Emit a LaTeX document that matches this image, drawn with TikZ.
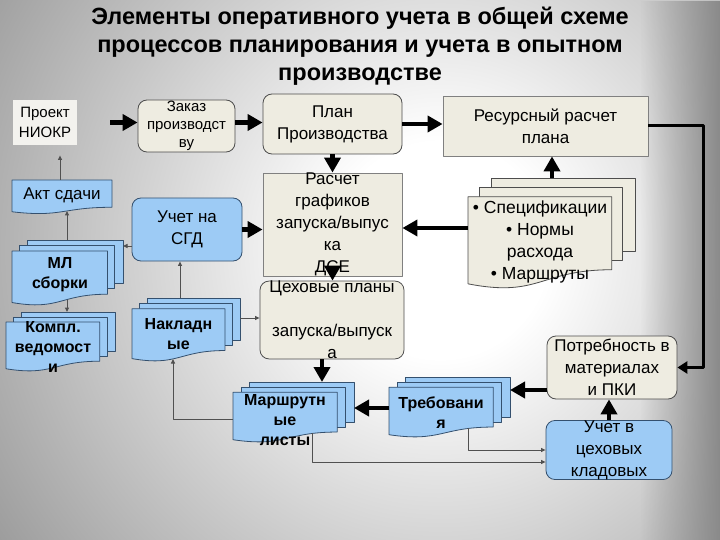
\documentclass[tikz,border=0pt]{standalone}
\usepackage{fontspec}
\setmainfont{Liberation Sans}
\usetikzlibrary{arrows.meta,calc,fadings}
\definecolor{beigefill}{HTML}{EEECE1}
\definecolor{beigeline}{HTML}{4D4D4D}
\definecolor{bluefill}{HTML}{9DCBF5}
\definecolor{blueline}{HTML}{34506E}
\definecolor{niokrfill}{HTML}{F3F2EE}
\definecolor{bgdark}{HTML}{9A9A9A}
\definecolor{edgedark}{HTML}{8A8A8A}
\definecolor{thinline}{HTML}{505050}
\pgfdeclareradialshading{bgfade}{\pgfpoint{0bp}{0bp}}{color(0bp)=(white); color(5bp)=(white); color(25bp)=(bgdark); color(50bp)=(bgdark)}
\tikzfading[name=fadeleft, left color=transparent!100, right color=transparent!0]

% sheet with wavy bottom: style, x, y (top), w, h
\newcommand\docsheet[5]{%
  \draw[#1] (#2,#3) -- ({#2+#4},#3) -- ({#2+#4},{#3+0.802*#5})
    .. controls ({#2+0.5*#4},{#3+0.802*#5}) and ({#2+0.5*#4},{#3+1.107*#5}) .. (#2,{#3+0.934*#5}) -- cycle;}

% stack of three sheets: style, x, y (top of back sheet), w, h
\newcommand\multidoc[5]{%
  \draw[#1] ({#2+0.138*#4},#3) rectangle ({#2+#4},{#3+0.666*#5});
  \draw[#1] ({#2+0.071*#4},{#3+0.084*#5}) rectangle ({#2+0.926*#4},{#3+0.752*#5});
  \draw[#1] (#2,{#3+0.17*#5}) -- ({#2+0.861*#4},{#3+0.17*#5}) -- ({#2+0.861*#4},{#3+0.834*#5})
    .. controls ({#2+0.43*#4},{#3+0.834*#5}) and ({#2+0.43*#4},{#3+1.09*#5}) .. (#2,{#3+0.962*#5}) -- cycle;}

\begin{document}
\begin{tikzpicture}[x=1pt, y=-1pt, line join=round, >=Stealth,
  font=\fontsize{17}{22}\selectfont,
  box/.style={draw=beigeline, fill=beigefill, line width=0.8pt, align=center, inner sep=0pt},
  rbox/.style={box, rounded corners=9pt},
  bluebox/.style={rbox, draw=blueline, fill=bluefill},
  sheet/.style={draw=beigeline, fill=beigefill, line width=0.8pt},
  bluesheet/.style={draw=blueline, fill=bluefill, line width=0.8pt},
  doclabel/.style={align=center, inner sep=0pt, font=\bfseries\fontsize{16}{20}\selectfont},
  bigarrow/.style={line width=4.5pt, -{Triangle[length=15pt,width=16pt]}},
  midarrow/.style={line width=3pt, -{Triangle[length=10pt,width=12pt]}},
  thinarrow/.style={draw=thinline, line width=1pt, -{Triangle[length=4.5pt,width=4pt]}}]
\useasboundingbox (0,0) rectangle (720,540);
\begin{scope}
  \clip (0,0) rectangle (720,540);
  \shade[shading=bgfade] (440,250) circle (540);
\end{scope}
\fill[edgedark, path fading=fadeleft] (640,0) rectangle (720,540);

\node[font=\bfseries\fontsize{23.5}{28}\selectfont, align=center] (title) at (360,46)
  {Элементы оперативного учета в общей схеме\\процессов планирования и учета в опытном\\производстве};

% boxes
\node[box, draw=none, fill=niokrfill, minimum width=64pt, minimum height=45pt, font=\fontsize{15}{20}\selectfont] (niokr) at (45,122.5) {Проект\\НИОКР};
\node[rbox, minimum width=97pt, minimum height=52pt, font=\fontsize{15}{18}\selectfont] (zakaz) at (186.5,126) {Заказ\\производст\\ву};
\node[rbox, minimum width=139pt, minimum height=60pt] (plan) at (332.5,124) {План\\Производства};
\node[box, draw=gray, minimum width=205pt, minimum height=60pt] (resurs) at (545.5,126) {Ресурсный расчет\\плана};
\node[box, draw=gray, minimum width=139pt, minimum height=77pt] (raschet) at (332.5,224.5) {Расчет\\графиков\\запуска/выпус\\ка\\ДСЕ};
\node[rbox, minimum width=144pt, minimum height=60pt] (ceh) at (332,320) {Цеховые планы\\[22pt]запуска/выпуск\\а};
\node[bluebox, minimum width=110pt, minimum height=63pt] (sgd) at (187,229.5) {Учет на\\СГД};
\node[rbox, minimum width=130pt, minimum height=63pt] (potr) at (612,367.5) {Потребность в\\материалах\\и ПКИ};
\node[bluebox, minimum width=126pt, minimum height=48pt] (uchet) at (609,450) {Учет в\\цеховых\\кладовых};

% documents
\docsheet{bluesheet}{12}{180}{100}{34}
\node (akt) at (62,195) {Акт сдачи};
\multidoc{bluesheet}{12}{240}{111}{65}
\node[doclabel] (ml) at (60,274.5) {МЛ\\сборки};
\multidoc{bluesheet}{6}{312}{109}{59}
\node[doclabel] (kompl) at (53,347) {Компл.\\ведомост\\и};
\multidoc{bluesheet}{132}{298}{108}{63}
\node[doclabel] (nakl) at (178.5,334) {Накладн\\ые};
\multidoc{bluesheet}{233}{382}{121}{60}
\node[doclabel] (marsh) at (285,420) {Маршрутн\\ые\\листы};
\multidoc{bluesheet}{389}{377}{121}{60}
\node[doclabel] (treb) at (441,413) {Требовани\\я};
\multidoc{sheet}{468}{178}{167}{110}
\node[align=center, font=\fontsize{17.5}{22}\selectfont] (spec) at (540,242)
  {\textbullet\ Спецификации\\\textbullet\ Нормы\\расхода\\\textbullet\ Маршруты};

% attachment points on the sheets
\coordinate (specTop) at ($(spec)+(12,-64)$);
\coordinate (specLeft) at ($(spec)+(-72,-14)$);
\coordinate (trebLeft) at ($(treb)+(-52,-5)$);
\coordinate (trebRight) at ($(treb)+(69,-23)$);
\coordinate (trebBot) at ($(treb)+(27,15)$);
\coordinate (marshTop) at ($(marsh)+(37,-38)$);
\coordinate (marshRight) at ($(marsh)+(69,-12)$);
\coordinate (marshLeft) at ($(marsh)+(-52,-1)$);
\coordinate (marshBot) at ($(marsh)+(27,13)$);
\coordinate (naklTop) at ($(nakl)+(1.5,-36)$);
\coordinate (naklRight) at ($(nakl)+(61.5,-16)$);
\coordinate (naklBot) at ($(nakl)+(-5.5,25)$);
\coordinate (mlRight) at ($(ml)+(63,-28.5)$);
\coordinate (mlTop) at ($(ml)+(7,-34.5)$);
\coordinate (mlBot) at ($(ml)+(7,25.5)$);
\coordinate (komplTop) at ($(kompl)+(14,-35)$);
\coordinate (aktTop) at ($(akt)+(-2,-15)$);
\coordinate (aktBot) at ($(akt)+(5,16)$);

% thick flow
\draw[bigarrow] ($(niokr.east)+(33,0)$) -- (niokr.east -| zakaz.west);
\draw[bigarrow] (zakaz.east |- niokr.east) -- (niokr.east -| plan.west);
\draw[bigarrow] (plan.east) -- (plan.east -| resurs.west);
\draw[bigarrow] (plan.south) -- (raschet.north);
\draw[bigarrow] (raschet.south) -- (raschet.south |- ceh.north);
\draw[bigarrow] (ceh.south -| marshTop) -- (marshTop);
\draw[bigarrow] (specTop) -- (specTop |- resurs.south);
\draw[bigarrow] (specLeft) -- (specLeft -| raschet.east);
\draw[bigarrow] (sgd.east) -- (sgd.east -| raschet.west);
\draw[bigarrow] (trebLeft) -- (trebLeft -| marshRight);
\draw[bigarrow] (potr.west |- trebRight) -- (trebRight);
\draw[bigarrow] (uchet.north) -- (uchet.north |- potr.south);
\draw[midarrow] (resurs.east) -- ++(55,0) |- (potr.east);

% thin links
\draw[thinarrow] (trebBot) |- (uchet.west);
\draw[thinarrow] (marshBot) |- ($(uchet.west)+(0,12)$);
\draw[thinarrow] (marshLeft) -| (naklBot);
\draw[thinarrow] (naklTop) -- (naklTop |- sgd.south);
\draw[thinarrow] (naklRight) -- (naklRight -| ceh.west);
\draw[thinarrow] (sgd.west |- mlRight) -- (mlRight);
\draw[thinarrow] (mlTop) -- (aktBot);
\draw[thinarrow] (mlBot) -- (komplTop);
\draw[thinarrow, shorten >=10pt] (aktTop) -- (aktTop |- niokr.south);
\end{tikzpicture}
\end{document}
